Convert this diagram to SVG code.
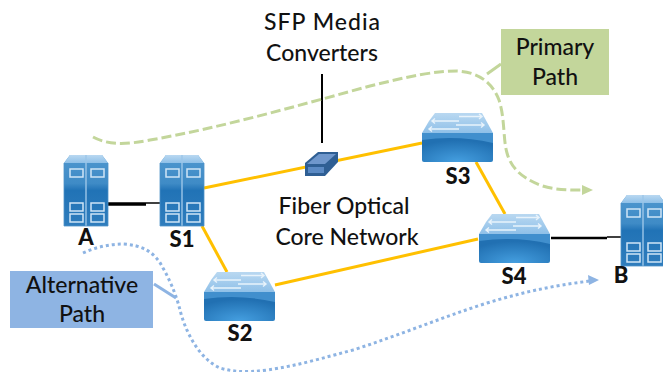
<svg xmlns="http://www.w3.org/2000/svg" width="663" height="372" viewBox="0 0 663 372">
<style>
text{font-family:"Lato","Carlito","Open Sans",sans-serif;fill:#111;font-size:23px;text-anchor:middle;font-weight:500}
.b{font-weight:900;font-size:22px}
.y{stroke:#ffc000;stroke-width:3;fill:none}
.k{stroke:#000;fill:none}
.g{stroke:#c3d69b;stroke-width:3;fill:none;stroke-dasharray:10 4}
.d{stroke:#8eb4e3;stroke-width:3;fill:none;stroke-dasharray:3 3}
.w{fill:none;stroke:#cfe5f6;stroke-width:1.5}
.a{fill:none;stroke:#e8f3fb;stroke-width:1.4}
</style>
<defs>
<linearGradient id="sb" x1="0" y1="0" x2="0" y2="1"><stop offset="0" stop-color="#4f97cf"/><stop offset=".4" stop-color="#3f8bc6"/><stop offset=".5" stop-color="#2173b6"/><stop offset="1" stop-color="#2f7dbd"/></linearGradient>
<linearGradient id="st" x1="0" y1="0" x2="0" y2="1"><stop offset="0" stop-color="#b9d8f1"/><stop offset="1" stop-color="#8fc0e8"/></linearGradient>
<radialGradient id="sw" cx=".5" cy="1" r=".75"><stop offset="0" stop-color="#459fe0"/><stop offset="1" stop-color="#2170b2"/></radialGradient>
<g id="server">
<path d="M0 8 L6 0 H38 L44 8 V71 H0Z" fill="url(#sb)"/>
<path d="M0 8 L6 0 H38 L44 8Z" fill="url(#st)"/>
<path d="M22 0V71" stroke="#9cc6e8" stroke-width="1.4"/>
<path d="M0 8V71H44V8" fill="none" stroke="#4f92c8" stroke-width=".8"/>
<g class="w"><rect x="6" y="14" width="13" height="8"/><rect x="27" y="14" width="13" height="8"/><rect x="6" y="48" width="13" height="8"/><rect x="27" y="48" width="13" height="8"/><rect x="6" y="59" width="13" height="8"/><rect x="27" y="59" width="13" height="8"/></g>
</g>
<g id="switch">
<path d="M0 20 V47 Q0 49 2 49 H69 Q71 49 71 47 V20Z" fill="url(#sw)"/>
<path d="M0 20 L7 8 L13 0 H60 L71 20Z" fill="url(#st)"/>
<path d="M0 20 H71 V30 Q36 22 0 27Z" fill="#4a97d3" opacity=".8"/>
<g class="a"><path d="M37 3.5H60M57 1L60 3.5L57 6"/><path d="M37 8H10M13 5.5L10 8L13 10.500"/><path d="M34 12H62M59 9.500L62 12L59 14.500"/><path d="M37 16H7M10 13.500L7 16L10 18.500"/></g>
</g>
</defs>
<g id="connectors">
<path class="y" d="M204 188 L422 143"/>
<path class="y" d="M202 226 L227 272"/>
<path class="y" d="M476 162 L505 214"/>
<path class="y" d="M275 285 L478 239"/>
<path class="k" stroke-width="3.500" d="M108 204 H146"/>
<path class="k" stroke-width="1.500" d="M146 203 H160"/>
<path class="k" stroke-width="2.500" d="M551 238 H607"/>
<path class="k" stroke-width="1.500" d="M607 237 H621"/>
<path class="k" stroke-width="2" d="M322 74 V143"/>
<path class="g" d="M93 137 C108 145 125 145 150 140 C220 128 300 105 370 86 C410 76 435 71 457 71 C478 72 492 82 499 100 C505 118 503 140 507 153 C511 168 522 178 540 185 C553 190 568 190 583 190"/>
<path fill="#c3d69b" d="M582 185 L593 190 L582 195Z"/>
<path stroke="#c3d69b" stroke-width="3" d="M501 64 L487 74"/>
<path class="d" d="M83 253 C96 247 110 244 123 244 C142 245 155 252 163 268 C172 284 177 298 180 310 C185 330 198 358 220 368 C240 374 260 372 290 366 C310 362 330 356 353 350 C400 335 440 318 487 303 C520 293 550 286 590 281"/>
<path fill="#8eb4e3" d="M588 275 L599 280 L589 285Z"/>
<path stroke="#8eb4e3" stroke-width="3" d="M154 284 L176 298"/>
</g>
<g id="node-A"><use href="#server" x="64" y="155"/><text class="b" x="86" y="245">A</text></g>
<g id="node-S1"><use href="#server" x="160" y="155"/><text class="b" x="182" y="247">S1</text></g>
<g id="node-B"><use href="#server" x="621" y="195"/><text class="b" x="621" y="283">B</text></g>
<g id="node-S2"><use href="#switch" x="204" y="272"/><text class="b" x="240" y="341">S2</text></g>
<g id="node-S3"><use href="#switch" x="422" y="113"/><text class="b" x="458" y="184">S3</text></g>
<g id="node-S4"><use href="#switch" x="479" y="214"/><text class="b" x="514" y="284">S4</text></g>
<g id="node-converter"><path d="M305 163 L318 152 H338 V162 L325 176 H305Z" fill="#2f5f94"/><path d="M307 164 L319 154 H336 L325 164Z" fill="#6f97cc"/><rect x="308" y="167" width="16" height="6" fill="#5b8ac4"/></g>
<g id="label-sfp"><text x="322" y="30" textLength="116">SFP Media</text><text x="322" y="61">Converters</text></g>
<g id="label-core"><text x="344" y="214">Fiber Optical</text><text x="347" y="245">Core Network</text></g>
<g id="label-primary"><rect x="501" y="29" width="108" height="66" fill="#c3d69b"/><text x="555" y="55">Primary</text><text x="555" y="85">Path</text></g>
<g id="label-alternative"><rect x="10" y="271" width="143" height="57" fill="#8eb4e3"/><text x="82" y="293">Alternative</text><text x="82" y="322">Path</text></g>
</svg>
